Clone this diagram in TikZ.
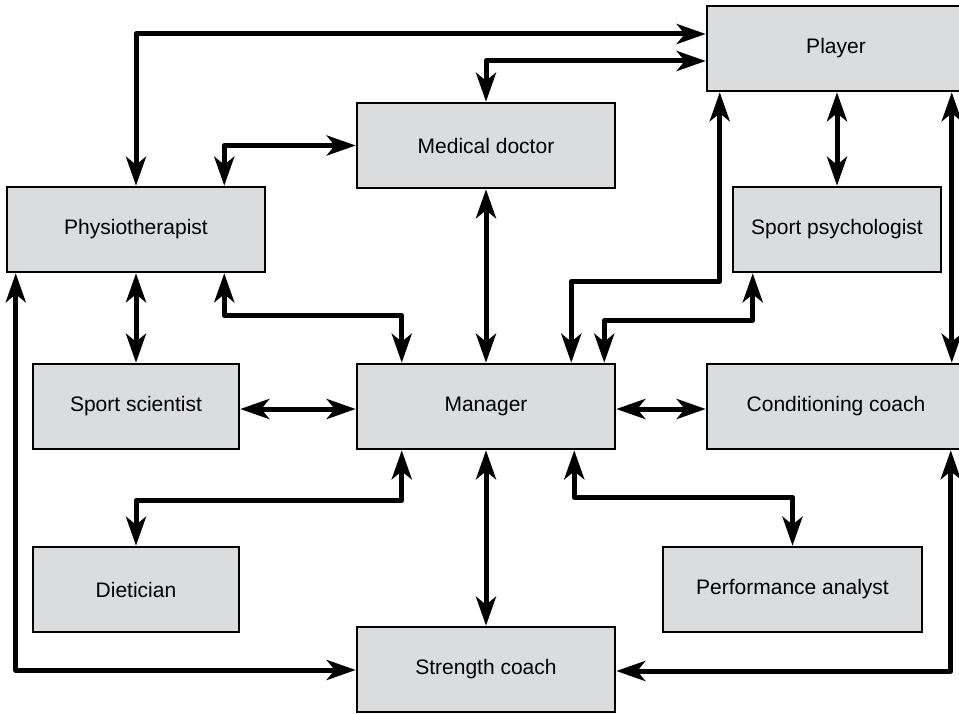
\documentclass[tikz,border=0pt]{standalone}
\usepackage{fontspec}
\setmainfont{Liberation Sans}
\usetikzlibrary{arrows.meta,calc}
\definecolor{boxgray}{RGB}{219,220,222}
\tikzset{
  role/.style={draw=black, line width=2.5pt, fill=boxgray, rectangle,
    minimum height=85pt, inner sep=0pt,
    font=\fontsize{21}{25}\selectfont},
  widebox/.style={role, minimum width=258pt},
  narrowbox/.style={role, minimum width=206pt},
  tip/.style={Stealth[length=29pt,width=20pt,inset=8pt]},
  link/.style={line width=5pt, line join=round, {Stealth[length=29pt,width=20pt,inset=8pt]}-{Stealth[length=29pt,width=20pt,inset=8pt]}},
}
\begin{document}
\begin{tikzpicture}[x=1pt,y=-1pt]
\useasboundingbox (0,0) rectangle (959,714);
\clip (0,0) rectangle (959,714);

% staff boxes
\node[widebox]   (player) at (836,48.5)  {Player};
\node[widebox]   (med)    at (486,145.5) {Medical doctor};
\node[widebox]   (phys)   at (136,229.5) {Physiotherapist};
\node[narrowbox, minimum width=208pt] (psych) at (837,229.5) {Sport psychologist};
\node[narrowbox] (sci)    at (136,406.5) {Sport scientist};
\node[widebox]   (man)    at (486,406.5) {Manager};
\node[widebox]   (cond)   at (836,406.5) {Conditioning coach};
\node[narrowbox] (diet)   at (136,589.5) {Dietician};
\node[widebox, minimum width=259pt] (pa) at (792.5,589.5) {Performance analyst};
\node[widebox]   (str)    at (486,669.5) {Strength coach};

% top links to the player
\draw[link] (phys.north) |- ($(player.west)+(0,-14.5)$);
\draw[link] (med.north) |- ($(player.west)+(0,12.5)$);
\draw[link] ($(phys.north east)+(-42,0)$) |- (med.west);

% physiotherapist links
\draw[link] (phys.south) -- (sci.north);
\draw[link] ($(phys.south east)+(-42,0)$) -- ++(0,42) -| ($(man.north west)+(46,0)$);
\draw[link] ($(phys.south west)+(10,0)$) |- ($(str.west)+(0,0.5)$);

% manager links
\draw[link] ($(sci.east)+(0,2.5)$) -- ($(man.west)+(0,2.5)$);
\draw[link] (med.south) -- (man.north);
\draw[link] ($(player.south west)+(14,0)$) -- ++(0,189) -| ($(man.north east)+(-45,0)$);
\draw[link] ($(psych.south west)+(21,0)$) -- ++(0,47) -| ($(man.north east)+(-12,0)$);
\draw[link] ($(man.east)+(0,2.5)$) -- ($(cond.west)+(0,2.5)$);
\draw[link] ($(man.south west)+(46,0)$) -- ++(0,50) -| (diet.north);
\draw[link] (man.south) -- (str.north);
\draw[link] ($(man.south east)+(-42,0)$) -- ++(0,47) -| (pa.north);

% right-hand links
\draw[link] ($(player.south)+(1,0)$) -- (psych.north);
\draw[link] ($(player.south west)+(246,0)$) -- ($(cond.north west)+(246,0)$);
\draw[link] ($(cond.south west)+(245,0)$) |- ($(str.east)+(0,1.5)$);
\end{tikzpicture}
\end{document}
